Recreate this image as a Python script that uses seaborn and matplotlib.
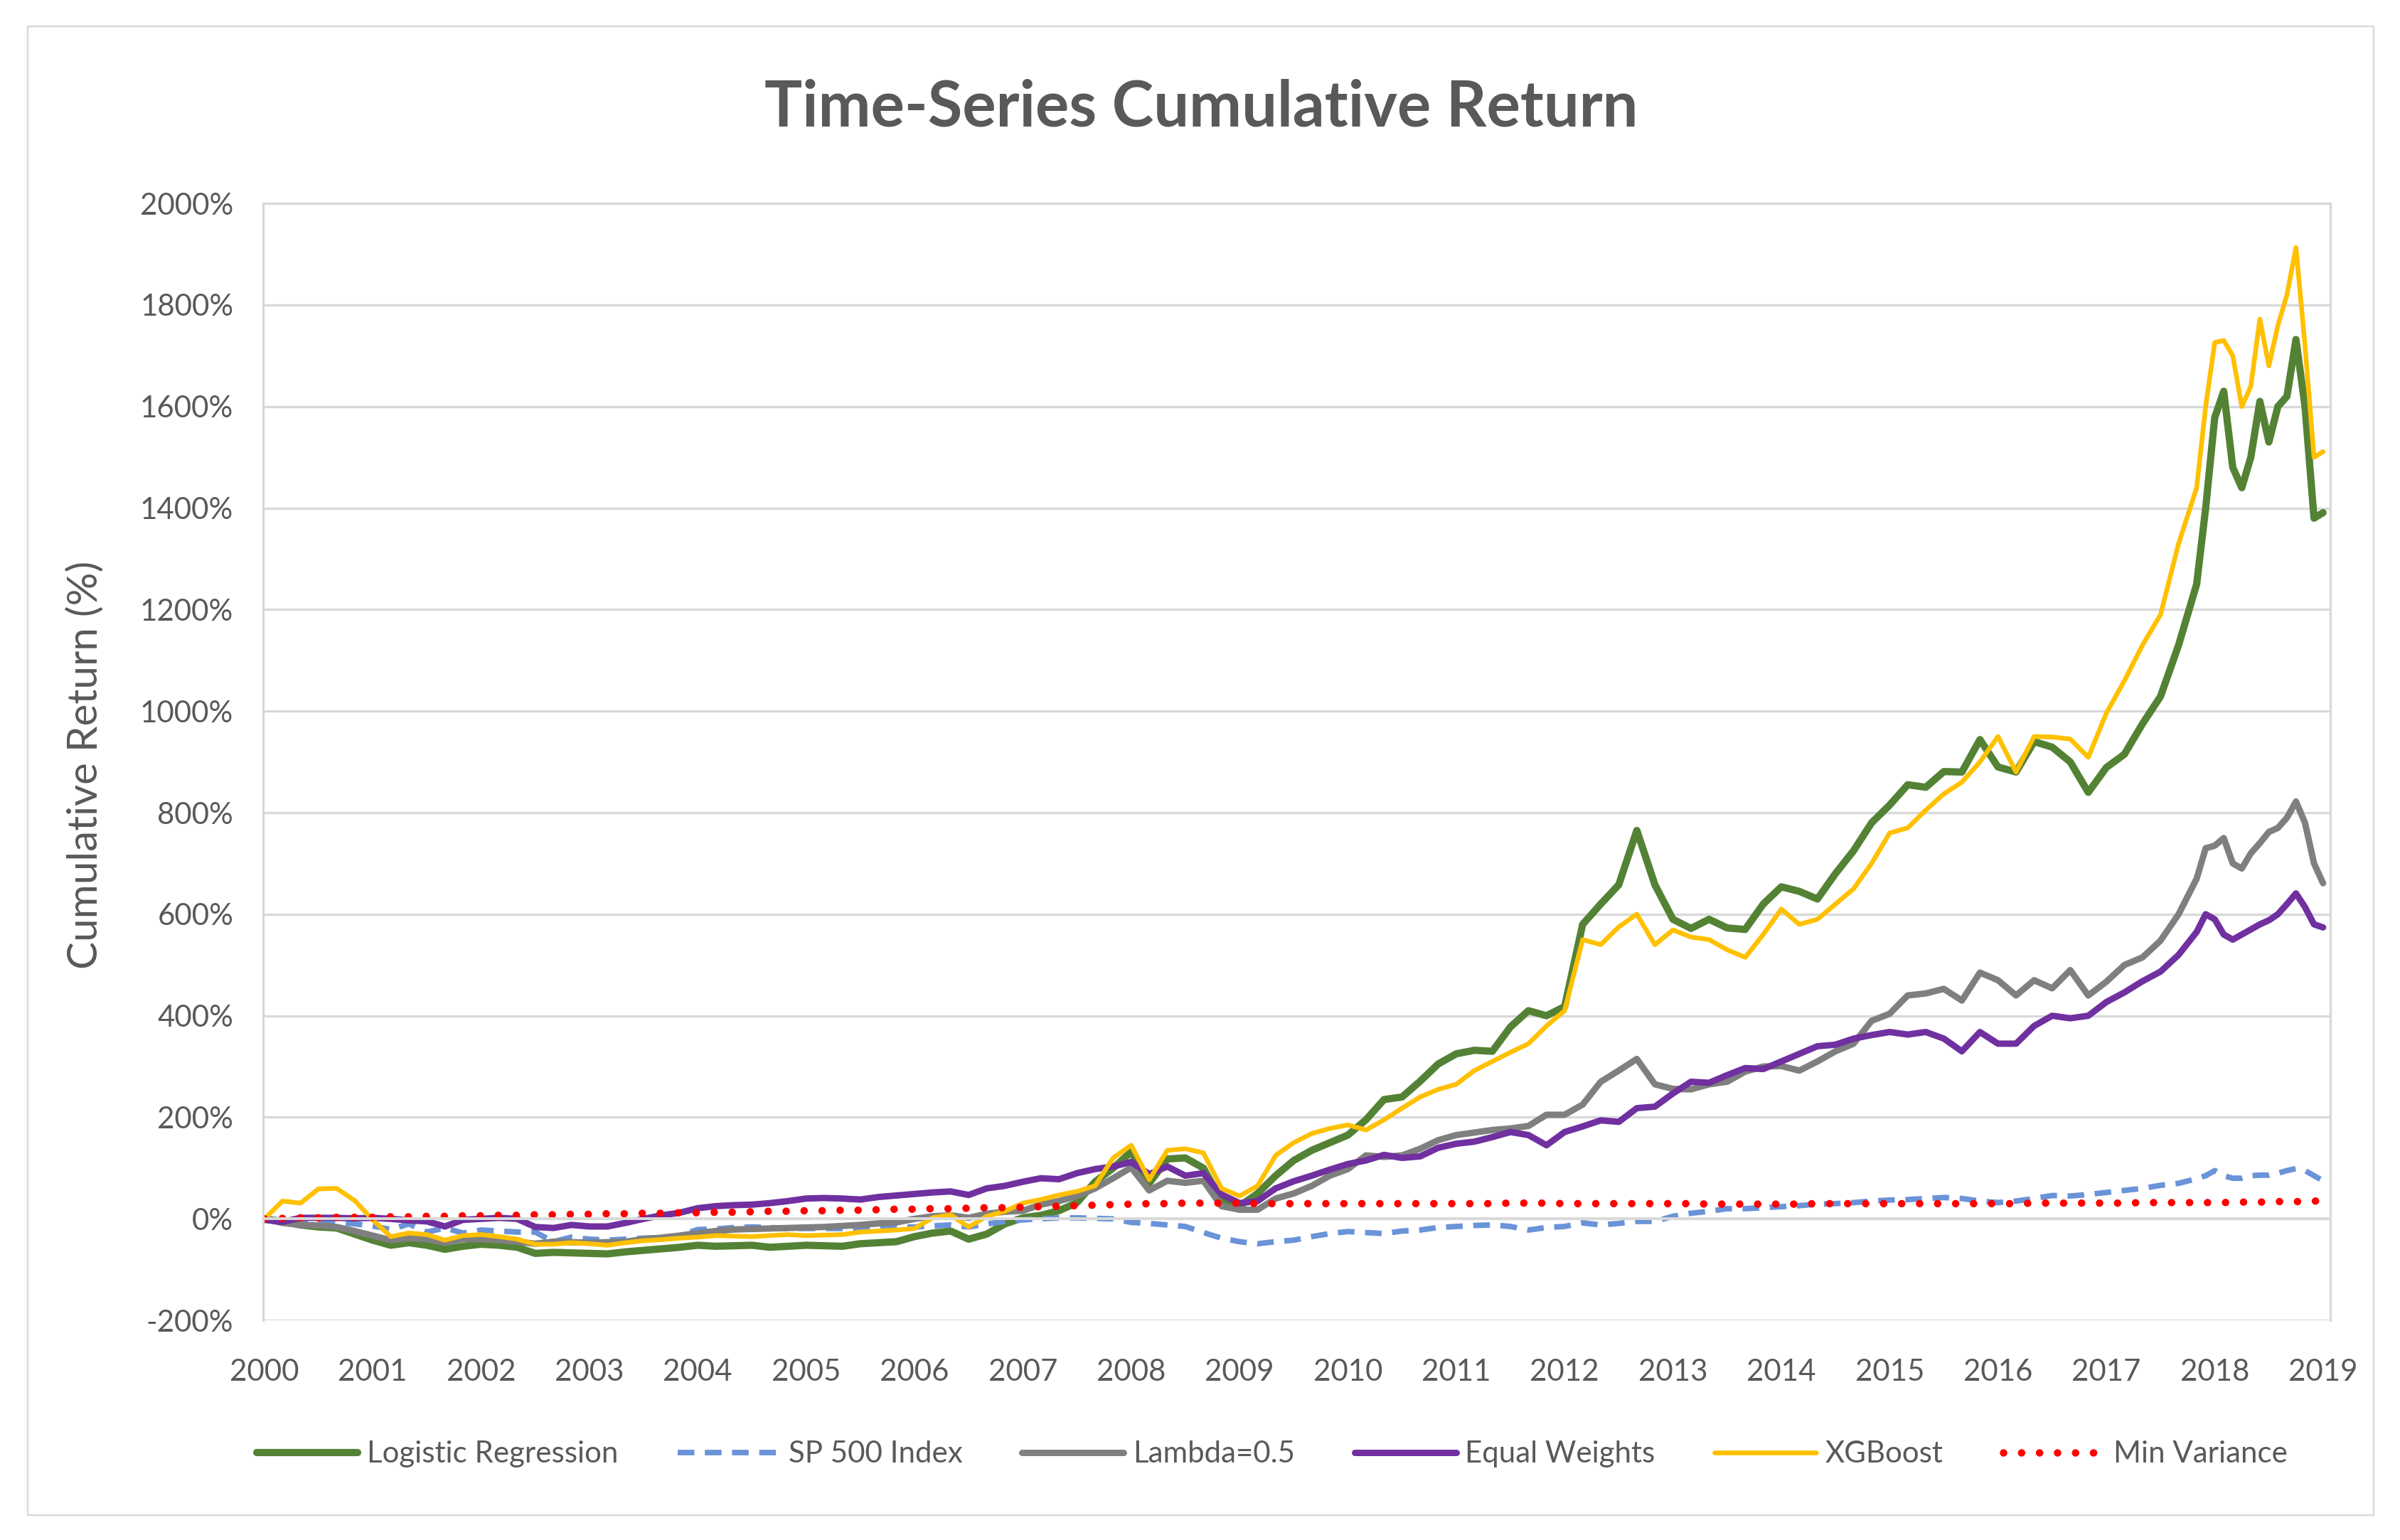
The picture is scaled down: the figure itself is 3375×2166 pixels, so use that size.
import numpy as np
import pandas as pd
import matplotlib
matplotlib.use("Agg")
import matplotlib.pyplot as plt
from matplotlib.patches import Rectangle
from matplotlib.ticker import FuncFormatter
import seaborn as sns

# dates: every 2 months up to Nov 2017, then monthly to Jan 2019
dates = pd.date_range("2000-01-01", "2017-11-01", freq="2MS").append(
    pd.date_range("2017-12-01", "2019-01-01", freq="MS"))
t = dates.year + (dates.month - 1) / 12

year_ticks = list(range(2000, 2020))

# cumulative return (%)
lr_vals = [
    0, -5, -12, -16, -18, -30,
    -42, -52, -47, -52, -60, -54,
    -50, -52, -56, -68, -66, -67,
    -68, -69, -65, -62, -59, -56,
    -52, -54, -53, -52, -56, -54,
    -52, -53, -54, -49, -47, -45,
    -35, -28, -24, -40, -30, -10,
    2, 7, 16, 32, 73, 100,
    132, 70, 118, 120, 100, 35,
    25, 50, 85, 115, 135, 150,
    165, 195, 235, 240, 271, 305,
    325, 332, 330, 378, 410, 400,
    418, 580, 620, 658, 765, 658,
    590, 572, 590, 573, 570, 620,
    654, 645, 630, 680, 725, 780,
    815, 855, 850, 881, 880, 944,
    890, 880, 940, 929, 900, 840,
    889, 915, 975, 1029, 1130, 1250,
    1400, 1578, 1630, 1480, 1440, 1500, 1610, 1530, 1600, 1620, 1732, 1600, 1380, 1391,
]

sp_vals = [
    0, -3, -7, -7, -7, -10,
    -14, -21, -10, -26, -18, -28,
    -22, -24, -26, -26, -45, -36,
    -40, -42, -40, -38, -37, -33,
    -21, -20, -17, -16, -17, -19,
    -19, -19, -19, -19, -18, -16,
    -16, -14, -12, -16, -10, -5,
    -2, 0, 2, 2, 1, 0,
    -7, -9, -12, -15, -27, -38,
    -45, -49, -45, -42, -35, -29,
    -25, -27, -29, -24, -22, -17,
    -15, -13, -12, -15, -22, -17,
    -15, -8, -12, -9, -5, -5,
    5, 11, 15, 20, 20, 22,
    24, 26, 29, 30, 32, 35,
    37, 38, 40, 42, 40, 35,
    32, 35, 40, 46, 45, 48,
    52, 56, 60, 66, 70, 79,
    85, 95, 85, 80, 80, 85, 86, 86, 90, 95, 99, 95, 85, 75,
]

lam_vals = [
    0, -8, -12, -13, -16, -24,
    -33, -42, -38, -40, -47, -40,
    -40, -42, -45, -49, -45, -46,
    -47, -46, -45, -40, -37, -33,
    -28, -24, -21, -20, -19, -18,
    -17, -16, -14, -12, -9, -7,
    0, 5, 7, 2, 10, 14,
    16, 28, 35, 45, 60, 80,
    101, 56, 75, 71, 75, 25,
    18, 18, 40, 50, 65, 85,
    98, 125, 122, 125, 138, 155,
    165, 170, 175, 178, 183, 205,
    205, 225, 270, 292, 315, 265,
    256, 255, 265, 270, 290, 300,
    301, 292, 310, 330, 345, 390,
    404, 440, 444, 453, 430, 485,
    470, 440, 470, 454, 490, 440,
    467, 500, 515, 548, 600, 670,
    730, 735, 750, 700, 690, 720, 740, 762, 770, 790, 822, 780, 700, 661,
]

ew_vals = [
    -2, -6, 2, 2, 2, 1,
    2, 0, -3, -5, -15, -2,
    0, 2, 0, -16, -18, -12,
    -15, -15, -8, 0, 7, 12,
    21, 25, 27, 28, 31, 35,
    40, 41, 40, 38, 43, 46,
    49, 52, 54, 47, 60, 65,
    73, 80, 78, 90, 98, 103,
    112, 88, 103, 85, 90, 48,
    31, 35, 60, 74, 85, 97,
    108, 115, 126, 120, 123, 140,
    148, 152, 161, 171, 165, 145,
    171, 182, 194, 191, 218, 221,
    247, 270, 268, 283, 297, 295,
    310, 325, 340, 343, 355, 362,
    368, 363, 368, 355, 330, 368,
    345, 345, 380, 400, 395, 400,
    427, 446, 468, 487, 520, 565,
    600, 590, 560, 550, 560, 570, 580, 588, 600, 620, 641, 614, 580, 574,
]

xgb_vals = [
    0, 35, 31, 59, 60, 36,
    -2, -35, -28, -31, -42, -33,
    -31, -35, -40, -50, -50, -47,
    -49, -52, -47, -43, -41, -38,
    -36, -33, -34, -35, -33, -31,
    -33, -32, -31, -26, -24, -22,
    -19, 2, 8, -16, 5, 15,
    31, 38, 47, 54, 65, 120,
    145, 77, 135, 138, 130, 60,
    45, 65, 125, 150, 168, 178,
    185, 175, 195, 218, 240, 255,
    265, 292, 310, 328, 345, 380,
    410, 550, 540, 575, 600, 540,
    569, 555, 550, 530, 515, 560,
    610, 580, 590, 620, 650, 700,
    760, 770, 805, 837, 860, 900,
    950, 880, 950, 949, 945, 909,
    996, 1060, 1130, 1190, 1330, 1440,
    1600, 1726, 1730, 1700, 1600, 1640, 1772, 1680, 1760, 1820, 1913, 1720, 1500, 1511,
]

mv_vals = [
    0, 1, 2, 2, 3, 3,
    3, 4, 4, 5, 5, 6,
    6, 7, 7, 8, 8, 9,
    9, 10, 10, 11, 11, 12,
    12, 13, 13, 14, 15, 15,
    16, 16, 17, 17, 18, 19,
    19, 20, 20, 21, 22, 22,
    23, 24, 25, 26, 27, 28,
    29, 30, 30, 31, 31, 31,
    31, 30, 30, 30, 30, 30,
    30, 30, 30, 30, 30, 30,
    30, 30, 30, 31, 31, 31,
    30, 30, 30, 30, 30, 30,
    30, 30, 29, 29, 29, 29,
    29, 29, 30, 30, 30, 30,
    30, 30, 30, 30, 30, 30,
    30, 30, 31, 31, 31, 31,
    31, 31, 32, 32, 32, 32,
    32, 32, 32, 33, 33, 33, 33, 33, 34, 34, 34, 34, 35, 35,
]

series = [
    ("Logistic Regression", lr_vals, "#548235", 3.4, "-"),
    ("SP 500 Index", sp_vals, "#6A93D8", 2.6, (0, (3.0, 1.9))),
    ("Lambda=0.5", lam_vals, "#7F7F7F", 3.0, "-"),
    ("Equal Weights", ew_vals, "#7030A0", 3.0, "-"),
    ("XGBoost", xgb_vals, "#FFC000", 2.2, "-"),
    ("Min Variance", mv_vals, "#FF0000", 3.5, (0, (0.01, 2.4))),
]

sns.set_style("white")
plt.rcParams["font.family"] = ["Lato", "DejaVu Sans"]

text_color = "#595959"
grid_color = "#D9D9D9"

fig = plt.figure(figsize=(15.625, 10.028), dpi=216)
ax = fig.add_axes([0.1097, 0.1426, 0.8614, 0.7253])

for name, vals, color, lw, ls in series:
    sns.lineplot(x=t, y=vals, ax=ax, color=color, linewidth=lw, linestyle=ls,
                 label=name, dash_capstyle="round" if name == "Min Variance" else "butt")

handles, labels = ax.get_legend_handles_labels()
ax.get_legend().remove()

ax.set_xlim(1999.99, 2019.07)
ax.set_ylim(-200, 2000)
ax.set_yticks(range(-200, 2001, 200))
ax.yaxis.set_major_formatter(FuncFormatter(lambda v, p: f"{v:.0f}%"))
ax.grid(axis="y", color=grid_color, linewidth=1.1)
ax.grid(axis="x", visible=False)
ax.set_axisbelow(True)
ax.set_xlabel("")

for side in ["left", "right", "top"]:
    ax.spines[side].set_color(grid_color)
    ax.spines[side].set_linewidth(1.1)
ax.spines["bottom"].set_position(("data", 0))
ax.spines["bottom"].set_color(grid_color)
ax.spines["bottom"].set_linewidth(1.3)

ax.set_xticks(year_ticks)
ax.tick_params(axis="x", direction="out", length=5.5, width=1.1, color=grid_color,
               labelbottom=False)
ax.tick_params(axis="y", length=0, pad=14, labelsize=14, labelcolor=text_color)

sec = ax.secondary_xaxis("bottom")
sec.set_xticks(year_ticks)
sec.set_xticklabels([str(y) for y in year_ticks])
sec.tick_params(length=0, pad=18, labelsize=14, labelcolor=text_color)
sec.spines["bottom"].set_visible(False)

ax.set_ylabel("Cumulative Return (%)", fontsize=19.5, color=text_color)
ax.yaxis.set_label_coords(-0.077, 0.497)

fig.text(0.5006, 0.930, "Time-Series Cumulative Return", ha="center", va="center",
         fontsize=29.5, fontweight="bold", color=text_color)

fig.add_artist(Rectangle((0.0115, 0.016), 0.9775, 0.967, transform=fig.transFigure,
                         fill=False, edgecolor=grid_color, linewidth=0.8))

fig.legend(handles, labels, loc="center", bbox_to_anchor=(0.53, 0.0557), ncol=6,
           frameon=False, fontsize=14, handlelength=3.4, handletextpad=0.3,
           columnspacing=2.0, labelcolor=text_color)

fig.savefig("out.png", dpi=216)
